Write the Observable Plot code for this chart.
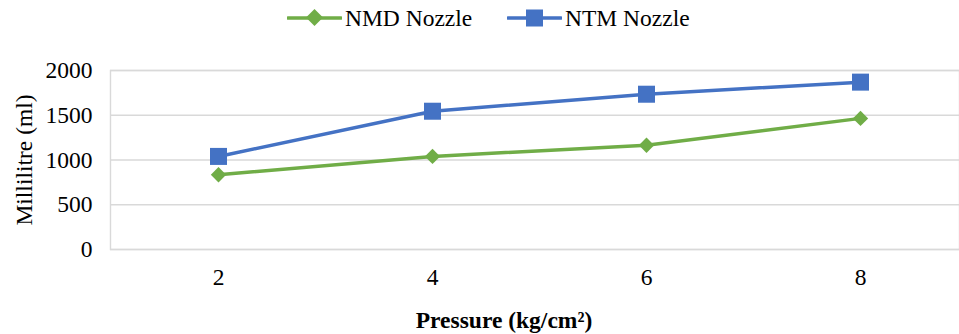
<!DOCTYPE html>
<html>
<head>
<meta charset="utf-8">
<script src="https://cdn.jsdelivr.net/npm/d3@7"></script>
<script src="https://cdn.jsdelivr.net/npm/@observablehq/plot@0.6"></script>
<style>
  body { margin: 0; background: #fff; color: #000; }
  #wrap { position: relative; width: 959px; height: 334px; overflow: hidden; }
  #legend { position: relative; height: 40px; font-size: 23.5px; font-family: "Liberation Serif", "Times New Roman", serif; }
  .item { position: absolute; top: 4px; display: flex; align-items: center; height: 28px; }
  .item svg { display: block; margin-right: 3px; }
</style>
</head>
<body>
<div id="wrap">
  <div id="legend"></div>
  <div id="chart"></div>
</div>
<script>
// Water discharge (ml) of two nozzle types at several operating pressures
const pressures = [2, 4, 6, 8];
const nmdNozzle = [835, 1040, 1165, 1465];
const ntmNozzle = [1040, 1545, 1735, 1870];
const seriesNames = ["NMD Nozzle", "NTM Nozzle"];
const seriesColors = ["#70ad47", "#4472c4"];
const seriesSymbols = ["diamond2", "square"];
const yTicks = [0, 500, 1000, 1500, 2000];
const xLabel = "Pressure (kg/cm²)";
const yLabel = "Millilitre (ml)";

const serifFont = "Liberation Serif";
const fontPx = 23.5;

const rows = [
  ...pressures.map((p, i) => ({pressure: p, ml: nmdNozzle[i], series: seriesNames[0]})),
  ...pressures.map((p, i) => ({pressure: p, ml: ntmNozzle[i], series: seriesNames[1]}))
];

// Legend above the plot
const legend = document.getElementById("legend");
const legendLeft = [287, 507];
seriesNames.forEach((name, i) => {
  const item = document.createElement("div");
  item.className = "item";
  item.style.left = legendLeft[i] + "px";
  const c = seriesColors[i];
  const marker = i === 0
    ? `<path d="M27.5,5 L36,13.5 L27.5,22 L19,13.5 Z" fill="${c}"/>`
    : `<rect x="19" y="5.5" width="17" height="17" fill="${c}"/>`;
  item.innerHTML = `<svg width="55" height="28"><line x1="1" x2="54" y1="14" y2="14" stroke="${c}" stroke-width="3.5" stroke-linecap="round"/>${marker}</svg><span>${name}</span>`;
  legend.appendChild(item);
});

const chart = Plot.plot({
  width: 959,
  height: 294,
  marginLeft: 110,
  marginRight: 0,
  marginTop: 30,
  marginBottom: 85,
  style: {fontFamily: serifFont, fontSize: fontPx + "px", color: "#000", background: "#fff"},
  x: {type: "point", domain: pressures, range: [109.5, 968.5], padding: 0.5, label: null},
  y: {domain: [0, 2000], label: null},
  color: {domain: seriesNames, range: seriesColors},
  marks: [
    Plot.gridY(yTicks, {stroke: "#d9d9d9", strokeOpacity: 1, strokeWidth: 1.4}),
    Plot.frame({stroke: "#d9d9d9", strokeWidth: 1.4}),
    Plot.axisY(yTicks, {tickSize: 0, tickPadding: 18, label: null, fill: "#000", fontFamily: serifFont, tickFormat: d => String(d)}),
    Plot.axisX(pressures, {tickSize: 0, tickPadding: 19, label: null, fill: "#000", fontFamily: serifFont, tickFormat: d => String(d)}),
    Plot.line(rows, {x: "pressure", y: "ml", z: "series", stroke: "series", strokeWidth: 3.5}),
    Plot.dot(rows.filter(d => d.series === seriesNames[0]), {x: "pressure", y: "ml", fill: seriesColors[0], symbol: seriesSymbols[0], r: 6.9, stroke: null}),
    Plot.dot(rows.filter(d => d.series === seriesNames[1]), {x: "pressure", y: "ml", fill: seriesColors[1], symbol: seriesSymbols[1], r: 9.6, stroke: null}),
    Plot.text([yLabel], {frameAnchor: "left", rotate: -90, dx: -86, fontSize: fontPx, fontFamily: serifFont, fill: "#000", textAnchor: "middle", lineAnchor: "middle"}),
    Plot.text([xLabel], {frameAnchor: "bottom", dx: -31, dy: 71, fontSize: fontPx, fontFamily: serifFont, fontWeight: "bold", fill: "#000", textAnchor: "middle", lineAnchor: "middle"})
  ]
});
document.getElementById("chart").appendChild(chart);
</script>
</body>
</html>
